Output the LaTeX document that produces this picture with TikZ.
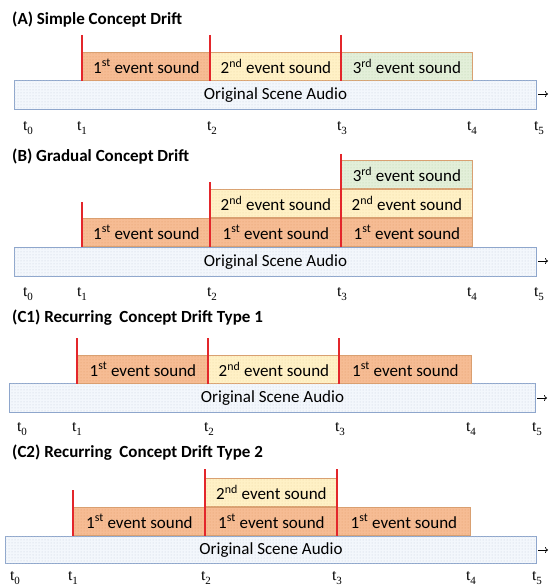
\documentclass[tikz,border=0pt]{standalone}
\usepackage{fontspec}
\setmainfont{Carlito}
\newfontfamily\tfont{Liberation Serif}
\usetikzlibrary{patterns,arrows.meta}
\definecolor{evOne}{HTML}{F6BC94}
\definecolor{evOneDot}{HTML}{E39A68}
\definecolor{evTwo}{HTML}{FFF1C6}
\definecolor{evTwoDot}{HTML}{EAD7A0}
\definecolor{evThree}{HTML}{E3EFD9}
\definecolor{evThreeDot}{HTML}{BCD3AC}
\definecolor{evBorder}{HTML}{D9A071}
\definecolor{origFill}{HTML}{F3F7FC}
\definecolor{origDot}{HTML}{C5CEDA}
\definecolor{origBorder}{HTML}{8EA6CC}
\definecolor{redLine}{HTML}{E3262B}
\tikzset{
  box/.style={draw=evBorder, line width=0.8pt, anchor=north west, inner sep=0pt,
    minimum height=28pt, font=\fontsize{17}{17}\selectfont},
  evone/.style={box, fill=evOne, postaction={pattern=dots, pattern color=evOneDot}},
  evtwo/.style={box, fill=evTwo, postaction={pattern=dots, pattern color=evTwoDot}},
  evthree/.style={box, fill=evThree, postaction={pattern=dots, pattern color=evThreeDot}},
  orig/.style={draw=origBorder, line width=1pt, fill=origFill, anchor=north west, inner sep=0pt,
    postaction={pattern=dots, pattern color=origDot},
    minimum height=29pt, font=\fontsize{17}{17}\selectfont},
  title/.style={anchor=west, inner sep=0pt, font=\fontsize{17}{17}\selectfont\bfseries},
  tlab/.style={inner sep=0pt, font=\tfont\fontsize{16}{16}\selectfont},
  redmark/.style={draw=redLine, line width=2pt},
  timearrow/.style={draw=black, line width=0.7pt, -{To[length=3pt,width=6pt]}},
}
\newcommand{\evtxt}[1]{#1 event sound}
\newcommand{\tl}[1]{t\raisebox{-3.5pt}{\fontsize{11}{11}\selectfont #1}}
\begin{document}
\begin{tikzpicture}[x=1pt,y=-1pt]
\useasboundingbox (0,0) rectangle (548,588);
% ---------------- (A)
\node[title] (tA) at (12,20) {(A) Simple Concept Drift};
\node[orig, minimum width=522pt] (oA) at (14,80) {Original Scene Audio};
\node[evone, minimum width=128pt] (a1) at (82,52) {\evtxt{1\textsuperscript{st}}};
\node[evtwo, minimum width=131pt] (a2) at (210,52) {\evtxt{2\textsuperscript{nd}}};
\node[evthree, minimum width=131pt] (a3) at (341,52) {\evtxt{3\textsuperscript{rd}}};
\coordinate (ra1) at (82,35); \coordinate (ra2) at (210,35); \coordinate (ra3) at (341,35);
\draw[redmark] (ra1) -- (a1.south west);
\draw[redmark] (ra2) -- (a2.south west);
\draw[redmark] (ra3) -- (a3.south west);
\coordinate (arA0) at (538,94); \coordinate (arA1) at (548,94);
\draw[timearrow] (arA0) -- (arA1);
\foreach \x/\i in {28/0,82/1,212/2,342/3,472/4,539/5}
  \node[tlab] (tA\i) at (\x,128) {\tl{\i}};
% ---------------- (B)
\node[title] (tB) at (12,157) {(B) Gradual Concept Drift};
\node[orig, minimum width=522pt] (oB) at (14,247) {Original Scene Audio};
\node[evone, minimum width=128pt] (b11) at (82,218) {\evtxt{1\textsuperscript{st}}};
\node[evone, minimum width=131pt] (b12) at (210,218) {\evtxt{1\textsuperscript{st}}};
\node[evone, minimum width=131pt] (b13) at (341,218) {\evtxt{1\textsuperscript{st}}};
\node[evtwo, minimum width=131pt] (b22) at (210,189) {\evtxt{2\textsuperscript{nd}}};
\node[evtwo, minimum width=131pt] (b23) at (341,189) {\evtxt{2\textsuperscript{nd}}};
\node[evthree, minimum width=131pt] (b33) at (341,160) {\evtxt{3\textsuperscript{rd}}};
\coordinate (rb1) at (82,202); \coordinate (rb2) at (210,182); \coordinate (rb3) at (341,154);
\draw[redmark] (rb1) -- (b11.south west);
\draw[redmark] (rb2) -- (b12.south west);
\draw[redmark] (rb3) -- (b13.south west);
\coordinate (arB0) at (538,261); \coordinate (arB1) at (548,261);
\draw[timearrow] (arB0) -- (arB1);
\foreach \x/\i in {28/0,82/1,212/2,342/3,472/4,539/5}
  \node[tlab] (tB\i) at (\x,294) {\tl{\i}};
% ---------------- (C1)
\node[title] (tC) at (12,318) {(C1) Recurring\ \ Concept Drift Type 1};
\node[orig, minimum width=526pt] (oC) at (9,383) {Original Scene Audio};
\node[evone, minimum width=131pt] (c1) at (77,355) {\evtxt{1\textsuperscript{st}}};
\node[evtwo, minimum width=131pt] (c2) at (208,355) {\evtxt{2\textsuperscript{nd}}};
\node[evone, minimum width=132pt] (c3) at (339,355) {\evtxt{1\textsuperscript{st}}};
\coordinate (rc1) at (77,338); \coordinate (rc2) at (208,338); \coordinate (rc3) at (339,338);
\draw[redmark] (rc1) -- (c1.south west);
\draw[redmark] (rc2) -- (c2.south west);
\draw[redmark] (rc3) -- (c3.south west);
\coordinate (arC0) at (537,398); \coordinate (arC1) at (547,398);
\draw[timearrow] (arC0) -- (arC1);
\foreach \x/\i in {22/0,77/1,209/2,340/3,471/4,537/5}
  \node[tlab] (tC\i) at (\x,429) {\tl{\i}};
% ---------------- (C2)
\node[title] (tD) at (12,453) {(C2) Recurring\ \ Concept Drift Type 2};
\node[orig, minimum width=531pt, minimum height=27pt] (oD) at (5,536) {Original Scene Audio};
\node[evone, minimum width=132pt] (d11) at (73,507) {\evtxt{1\textsuperscript{st}}};
\node[evone, minimum width=132pt] (d12) at (205,507) {\evtxt{1\textsuperscript{st}}};
\node[evone, minimum width=133pt] (d13) at (337,507) {\evtxt{1\textsuperscript{st}}};
\node[evtwo, minimum width=132pt] (d22) at (205,478) {\evtxt{2\textsuperscript{nd}}};
\coordinate (rd1) at (73,490); \coordinate (rd2) at (205,469); \coordinate (rd3) at (337,469);
\draw[redmark] (rd1) -- (d11.south west);
\draw[redmark] (rd2) -- (d12.south west);
\draw[redmark] (rd3) -- (d13.south west);
\coordinate (arD0) at (538,550); \coordinate (arD1) at (548,550);
\draw[timearrow] (arD0) -- (arD1);
\foreach \x/\i in {15/0,73/1,206/2,337/3,471/4,537/5}
  \node[tlab] (tD\i) at (\x,578) {\tl{\i}};
\end{tikzpicture}
\end{document}
